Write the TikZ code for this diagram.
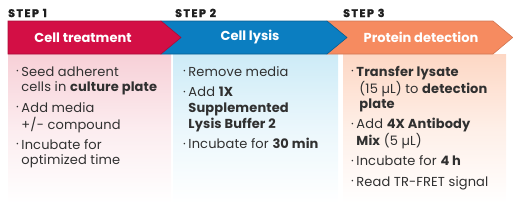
\documentclass[tikz,border=0pt]{standalone}
\usepackage{fontspec}
\setmainfont{Poppins}
\usetikzlibrary{calc}
\definecolor{redb}{HTML}{D30F45}
\definecolor{blueb}{HTML}{0B7EC1}
\definecolor{orangeb}{HTML}{F68B60}
\definecolor{pinkf}{HTML}{F7D0D7}
\definecolor{bluef}{HTML}{CDEBF7}
\definecolor{orangef}{HTML}{FDD7C4}
\definecolor{txt}{HTML}{303030}
\definecolor{steptxt}{HTML}{1E1E1E}
\tikzset{
  banner/.style={line width=0.6pt},
  bannertext/.style={text=white,font=\fontsize{13}{15}\selectfont\bfseries,inner sep=0pt},
  steplabel/.style={text=steptxt,font=\fontsize{11}{12}\selectfont\bfseries\addfontfeatures{FakeBold=2,LetterSpace=14},anchor=base west,inner sep=0pt},
  itemlist/.style={text=txt,anchor=north west,inner sep=0pt,font=\fontsize{13}{15.7}\selectfont\addfontfeatures{LetterSpace=1}},
}
\newcommand{\bul}{\raisebox{0.1ex}{·}}
\begin{document}
\begin{tikzpicture}[x=1pt,y=-1pt]
\useasboundingbox (0,0) rectangle (513,204);
% boxes
\shade[top color=pinkf,bottom color=white,middle color=pinkf!40!white] (8,54) rectangle (171,203);
\shade[top color=bluef,bottom color=white,middle color=bluef!40!white] (173,54) rectangle (338,203);
\shade[top color=orangef,bottom color=white,middle color=orangef!40!white] (343,54) rectangle (506,203);
% banners
\filldraw[banner,fill=orangeb,draw=orangeb!85!black] (327,21) -- (493,21) -- (512.7,37.5) -- (493,54) -- (327,54) -- cycle;
\filldraw[banner,fill=blueb,draw=blueb!75!black] (161,21) -- (327,21) -- (347,37.5) -- (327,54) -- (161,54) -- cycle;
\filldraw[banner,fill=redb,draw=redb!80!black] (8,21) -- (161,21) -- (181,37.5) -- (161,54) -- (8,54) -- cycle;
\node[bannertext] (b1) at (83,37.5) {Cell treatment};
\node[bannertext] (b2) at (250,37.5) {Cell lysis};
\node[bannertext] (b3) at (421,37.5) {Protein detection};
% step labels
\node[steplabel] (s1) at (8,17) {STEP 1};
\node[steplabel] (s2) at (175,17) {STEP 2};
\node[steplabel] (s3) at (343,17) {STEP 3};
% lists
\node[itemlist] (l1) at (16,65) {\begin{tabular}{@{}l@{\hspace{2.5pt}}l@{}}
\bul & Seed adherent\\
 & cells in \textbf{culture plate}\\[4.5pt]
\bul & Add media\\
 & +/- compound\\[4.5pt]
\bul & Incubate for\\
 & optimized time
\end{tabular}};
\node[itemlist] (l2) at (183,65) {\begin{tabular}{@{}l@{\hspace{2.5pt}}l@{}}
\bul & Remove media\\[5pt]
\bul & Add \textbf{1X}\\
 & \textbf{Supplemented}\\
 & \textbf{Lysis Buffer 2}\\[5pt]
\bul & Incubate for \textbf{30 min}
\end{tabular}};
\node[itemlist] (l3) at (351,65) {\begin{tabular}{@{}l@{\hspace{2.5pt}}l@{}}
\bul & \textbf{Transfer lysate}\\
 & \hspace{3pt}(15 µL) to \textbf{detection}\\
 & \hspace{3pt}\textbf{plate}\\[4.5pt]
\bul & Add \textbf{4X Antibody}\\
 & \textbf{Mix} (5 µL)\\[4.5pt]
\bul & Incubate for \textbf{4 h}\\[4.5pt]
\bul & Read TR-FRET signal
\end{tabular}};
\end{tikzpicture}
\end{document}
